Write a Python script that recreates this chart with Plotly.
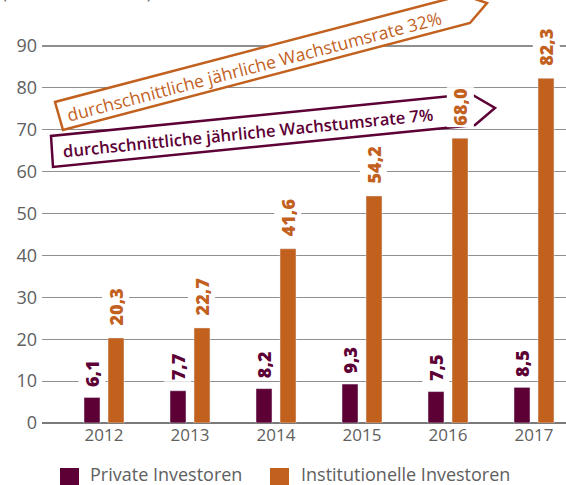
import plotly.graph_objects as go

years = ["2012", "2013", "2014", "2015", "2016", "2017"]
private_vals = [6.1, 7.7, 8.2, 9.3, 7.5, 8.5]
inst_vals = [20.3, 22.7, 41.6, 54.2, 68.0, 82.3]
private_labels = ["6,1", "7,7", "8,2", "9,3", "7,5", "8,5"]
inst_labels = ["20,3", "22,7", "41,6", "54,2", "68,0", "82,3"]
series_names = ["Private Investoren", "Institutionelle Investoren"]
y_ticks = [0, 10, 20, 30, 40, 50, 60, 70, 80, 90]
growth_texts = ["durchschnittliche jährliche Wachstumsrate 32%",
                "durchschnittliche jährliche Wachstumsrate 7%"]
unit_text = "(in Milliarden Euro)"

PURPLE = "#5c0035"
ORANGE = "#c2601e"
GRID = "#8f8f8f"
TXT = "#606060"
FONT = "Open Sans"

W, H = 566, 485
ML, MR, MT, MB = 42, 0, 10, 62
PW, PH = W - ML - MR, H - MT - MB


def px(x):
    return (x - ML) / PW


def py(y):
    return (H - MB - y) / PH


def path(points):
    s = "M " + " L ".join(f"{px(x):.5f},{py(y):.5f}" for x, y in points) + " Z"
    return s


fig = go.Figure()
bw = 0.186
fig.add_trace(go.Bar(x=years, y=private_vals, name=series_names[0], marker_color=PURPLE,
                     width=bw, offset=-0.2326, showlegend=False, hoverinfo="skip"))
fig.add_trace(go.Bar(x=years, y=inst_vals, name=series_names[1], marker_color=ORANGE,
                     width=bw, offset=0.0465, showlegend=False, hoverinfo="skip"))

annotations = []
for i, yr in enumerate(years):
    annotations.append(dict(x=i - 0.1395, y=private_vals[i], xref="x", yref="y",
                            text=private_labels[i], textangle=-90, showarrow=False,
                            xanchor="center", yanchor="bottom", yshift=8,
                            bgcolor="white", borderpad=1,
                            font=dict(family=FONT, size=18, color=PURPLE, weight=800)))
    annotations.append(dict(x=i + 0.1395, y=inst_vals[i], xref="x", yref="y",
                            text=inst_labels[i], textangle=-90, showarrow=False,
                            xanchor="center", yanchor="bottom", yshift=10,
                            bgcolor="white", borderpad=1,
                            font=dict(family=FONT, size=18, color=ORANGE, weight=800)))

shapes = []
# growth arrows
shapes.append(dict(type="path", xref="paper", yref="paper",
                   path=path([(55, 102), (63, 130), (470, 23), (487, 3), (463, -5)]),
                   line=dict(color=ORANGE, width=2.5), fillcolor="white", layer="above"))
shapes.append(dict(type="path", xref="paper", yref="paper",
                   path=path([(51, 136), (53, 167), (475, 125), (495, 108), (471, 94)]),
                   line=dict(color=PURPLE, width=2.5), fillcolor="white", layer="above"))
annotations.append(dict(x=px(254), y=py(66), xref="paper", yref="paper", text=growth_texts[0],
                        textangle=-14.7, showarrow=False, xanchor="center", yanchor="middle",
                        font=dict(family=FONT, size=17.5, color=ORANGE)))
annotations.append(dict(x=px(248), y=py(132), xref="paper", yref="paper", text=growth_texts[1],
                        textangle=-5.7, showarrow=False, xanchor="center", yanchor="middle",
                        font=dict(family=FONT, size=16.6, color=PURPLE, weight=600)))

# unit title (cut off at the top in the reference)
annotations.append(dict(x=px(0), y=py(6), xref="paper", yref="paper", text=unit_text,
                        showarrow=False, xanchor="left", yanchor="bottom",
                        font=dict(family=FONT, size=17, color=TXT)))

# custom legend
for (x0, tx), name, col in zip([(60, 88), (270, 299)], series_names, [PURPLE, ORANGE]):
    shapes.append(dict(type="rect", xref="paper", yref="paper",
                       x0=px(x0), x1=px(x0 + 19), y0=py(485), y1=py(468),
                       fillcolor=col, line=dict(width=0)))
    annotations.append(dict(x=px(tx), y=py(474), xref="paper", yref="paper", text=name,
                            showarrow=False, xanchor="left", yanchor="middle",
                            font=dict(family=FONT, size=18, color=TXT)))

fig.update_layout(
    width=W, height=H,
    margin=dict(l=ML, r=MR, t=MT, b=MB),
    plot_bgcolor="white", paper_bgcolor="white",
    barmode="overlay",
    showlegend=False,
    hovermode=False,
    shapes=shapes,
    annotations=annotations,
    font=dict(family=FONT, color=TXT),
)
fig.update_xaxes(type="category", range=[-0.721, 5.372], showgrid=False, showline=False,
                 ticks="", tickfont=dict(family=FONT, size=17, color=TXT), fixedrange=True)
fig.update_yaxes(range=[0, PH / 4.189], tickvals=y_ticks, showgrid=True, gridcolor=GRID,
                 gridwidth=1.2, zeroline=True, zerolinecolor="#7a7a7a", zerolinewidth=2,
                 showline=False, ticks="", tickfont=dict(family=FONT, size=18, color=TXT),
                 ticklabelstandoff=4, fixedrange=True)

fig.write_html("out.html", config={"displayModeBar": False, "staticPlot": True},
               post_script="document.body.style.margin='0px';document.body.style.overflow='hidden';")
